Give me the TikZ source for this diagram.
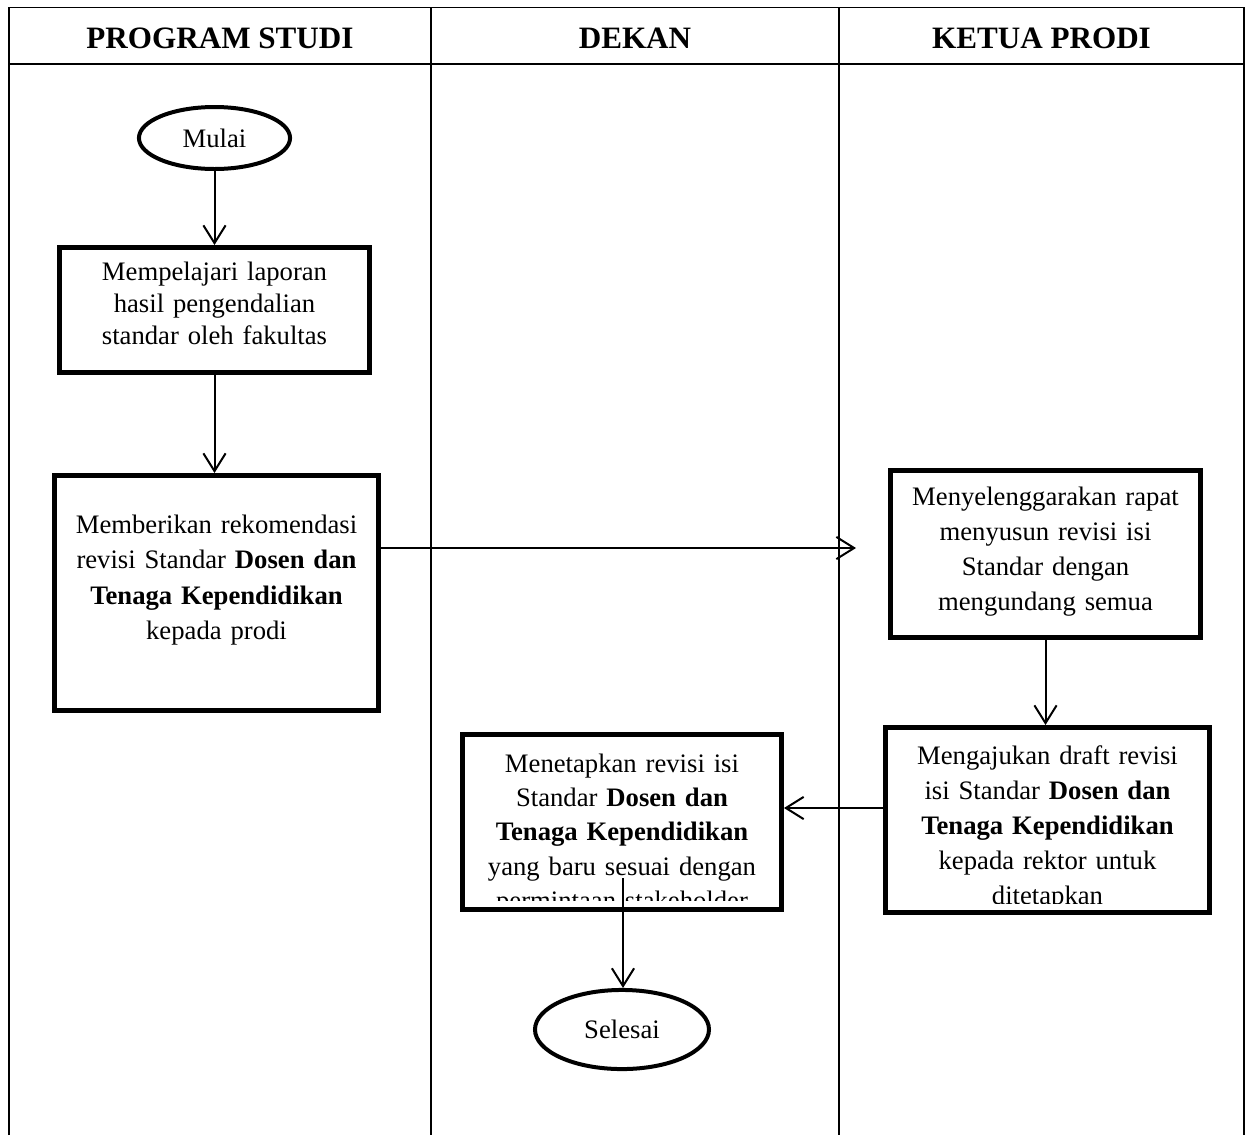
\documentclass[tikz,border=0pt]{standalone}
\usepackage{fontspec}
\setmainfont{Liberation Serif}
\usetikzlibrary{shapes.geometric,arrows.meta}

\tikzset{
  lane/.style={line width=0.8pt},
  head/.style={font=\fontsize{14}{16}\selectfont\bfseries, inner sep=0pt, anchor=base},
  kotak/.style={draw, rectangle, line width=2.2pt, inner sep=0pt},
  oval/.style={draw, ellipse, line width=1.8pt, inner sep=0pt, font=\fontsize{12}{14}\selectfont},
  isi/.style={align=center, inner sep=0pt, anchor=base, text width=150pt, font=\fontsize{12}{15.75}\selectfont},
  arr/.style={line width=0.9pt, -{Straight Barb[length=8pt,width=10pt]}},
}

\begin{document}
\begin{tikzpicture}[x=0.45pt, y=-0.45pt]
  \useasboundingbox (0,0) rectangle (1247,1135);

  % tabel jalur
  \draw[lane] (9,1135) -- (9,7.5) -- (1244,7.5) -- (1244,1135);
  \draw[lane] (9,64) -- (1244,64);
  \draw[lane] (431,7.5) -- (431,1135);
  \draw[lane] (839,7.5) -- (839,1135);

  \node[head] (hprodi) at (220,48) {PROGRAM STUDI};
  \node[head] (hdekan) at (635,48) {DEKAN};
  \node[head] (hketua) at (1041.5,48) {KETUA PRODI};

  % program studi
  \node[oval, minimum width=68pt, minimum height=27.9pt] (mulai) at (214.5,138) {Mulai};

  \node[kotak, minimum width=139.5pt, minimum height=56.3pt] (pelajari) at (214.5,310) {};
  \node[isi, font=\fontsize{12}{14.6}\selectfont] (pelajari-t) at (214.5,280)
    {Mempelajari laporan\\ hasil pengendalian\\ standar oleh fakultas};

  \node[kotak, minimum width=145.8pt, minimum height=105.8pt] (rekom) at (216.5,593) {};
  \node[isi, font=\fontsize{12}{16}\selectfont] (rekom-t) at (216.5,533)
    {Memberikan rekomendasi\\ revisi Standar \textbf{Dosen dan}\\ \textbf{Tenaga Kependidikan}\\ kepada prodi};

  % ketua prodi
  \node[kotak, minimum width=139.5pt, minimum height=75.2pt] (rapat) at (1045.5,554) {};
  \begin{scope}
    \clip (rapat.north west) rectangle ([yshift=6.6pt]rapat.south east);
    \node[isi] (rapat-t) at (1045.5,505)
      {Menyelenggarakan rapat\\ menyusun revisi isi\\ Standar dengan\\ mengundang semua\\ stakeholder};
  \end{scope}

  \node[kotak, minimum width=145.8pt, minimum height=83.3pt] (ajukan) at (1047.5,820) {};
  \begin{scope}
    \clip (ajukan.north west) rectangle ([yshift=5.4pt]ajukan.south east);
    \node[isi] (ajukan-t) at (1047.5,764)
      {Mengajukan draft revisi\\ isi Standar \textbf{Dosen dan}\\ \textbf{Tenaga Kependidikan}\\ kepada rektor untuk\\ ditetapkan};
  \end{scope}

  % dekan
  \node[kotak, minimum width=143.6pt, minimum height=78.8pt] (tetapkan) at (622,822) {};
  \begin{scope}
    \clip (tetapkan.north west) rectangle ([yshift=5pt]tetapkan.south east);
    \node[isi, font=\fontsize{12}{15.5}\selectfont] (tetapkan-t) at (622,772)
      {Menetapkan revisi isi\\ Standar \textbf{Dosen dan}\\ \textbf{Tenaga Kependidikan}\\ yang baru sesuai dengan\\ permintaan stakeholder};
  \end{scope}

  \node[oval, minimum width=78.3pt, minimum height=35.6pt] (selesai) at (622,1029.5) {Selesai};

  % panah
  \coordinate (kirim) at (856,548);
  \coordinate (balik) at (0,808);
  \coordinate (turun) at (623,878);

  \draw[arr] (mulai.south) -- (mulai.south |- pelajari.north);
  \draw[arr] (pelajari.south) -- (pelajari.south |- rekom.north);
  \draw[arr] (rekom.east |- kirim) -- (kirim);
  \draw[arr] (rapat.south) -- (rapat.south |- ajukan.north);
  \draw[arr] (ajukan.west |- balik) -- (tetapkan.east |- balik);
  \draw[arr] (turun) -- (turun |- selesai.north);
\end{tikzpicture}
\end{document}
